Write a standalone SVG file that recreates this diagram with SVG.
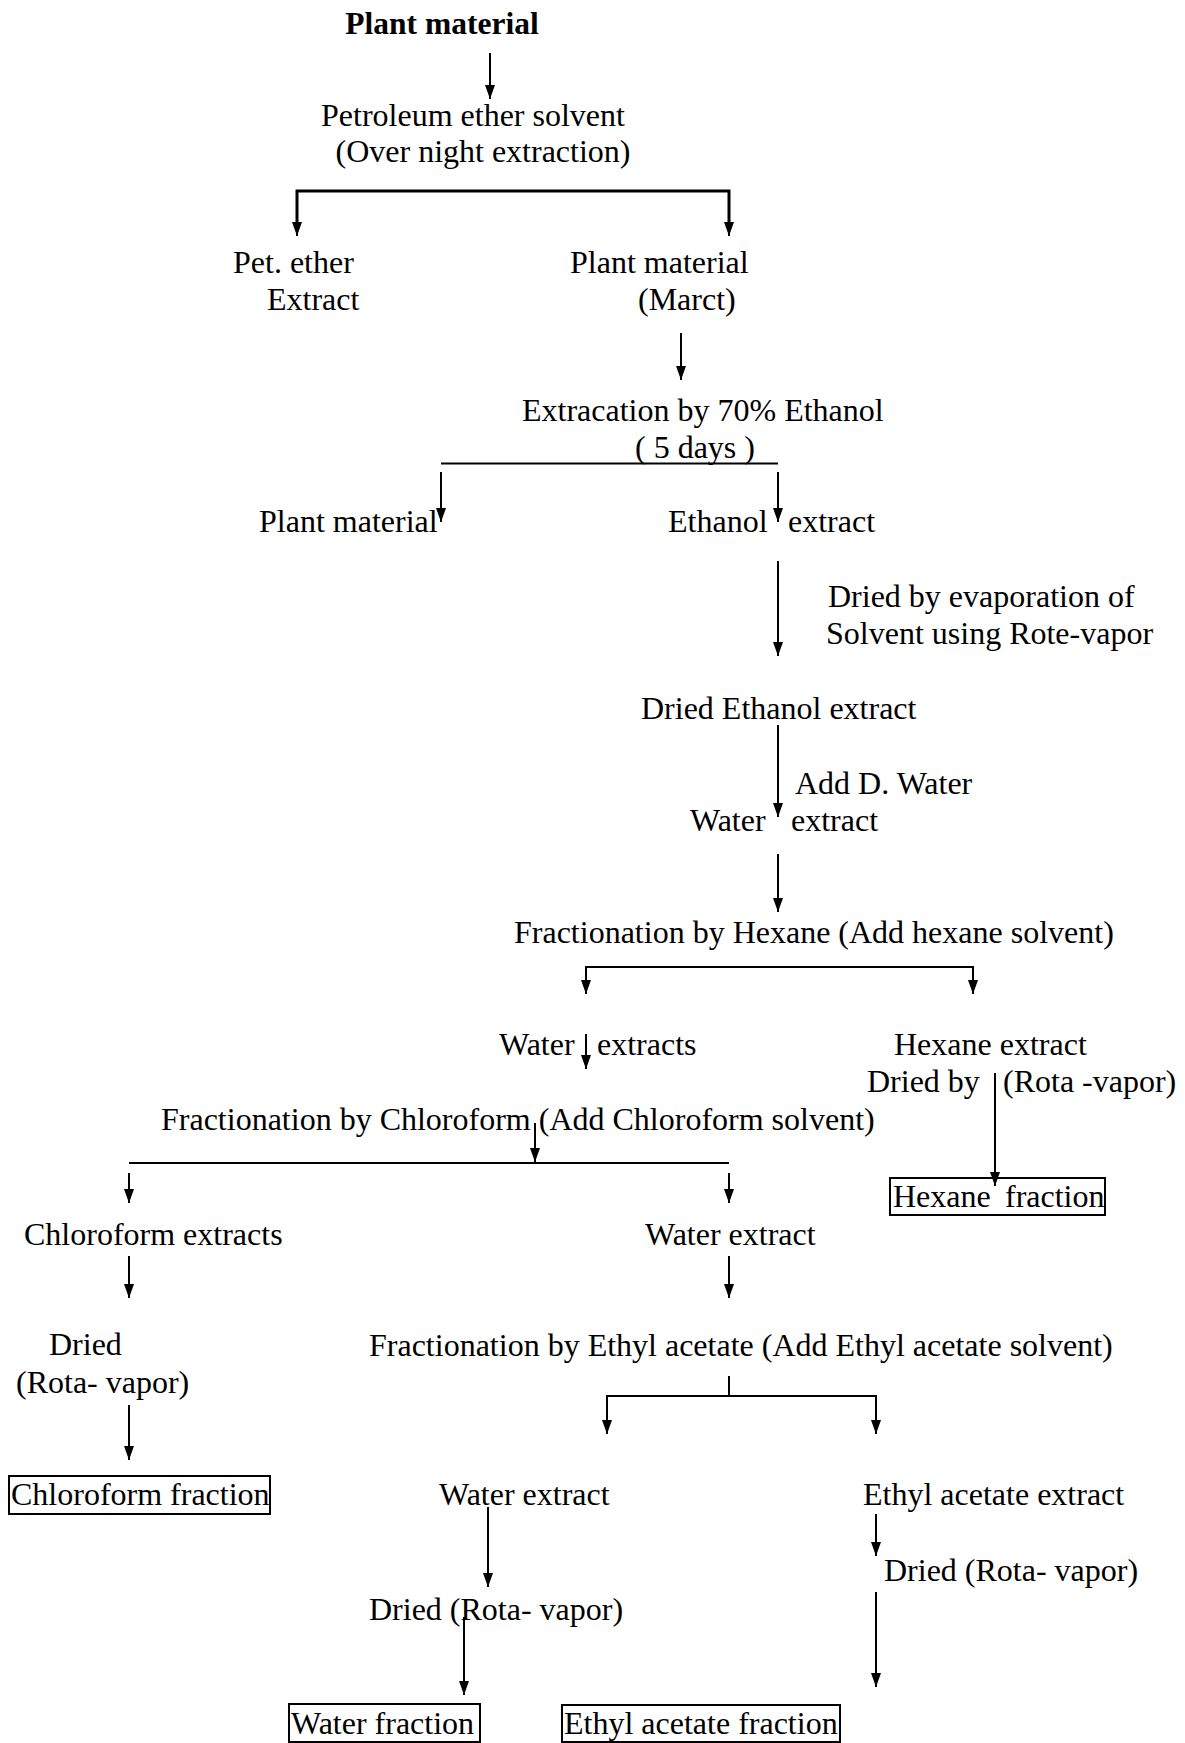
<svg xmlns="http://www.w3.org/2000/svg" width="1185" height="1743" viewBox="0 0 1185 1743">
<defs>
<marker id="ah" markerUnits="userSpaceOnUse" markerWidth="16" markerHeight="12" viewBox="0 0 16 12" refX="15" refY="6" orient="auto">
<path d="M1,1 L15,6 L1,11 Z" fill="#000"/>
</marker>
<style>
text{font-family:"Liberation Serif","Times New Roman",serif;font-size:32px;fill:#000}
.b{font-weight:bold;font-size:31.5px}
.c{text-anchor:middle}
.ln{stroke:#000;stroke-width:2;fill:none}
.th{stroke-width:3}
.ar{marker-end:url(#ah)}
.box{fill:none;stroke:#000;stroke-width:2}
</style>
</defs>
<rect width="1185" height="1743" fill="#fff"/>
<g id="connectors">
<line class="ln ar" x1="490" y1="53" x2="490" y2="99"/>
<path class="ln th" d="M297,226 V191 H729 V226"/>
<line class="ln ar" x1="297" y1="220" x2="297" y2="236"/>
<line class="ln ar" x1="729" y1="220" x2="729" y2="236"/>
<line class="ln ar" x1="681" y1="333" x2="681" y2="380"/>
<line class="ln" x1="441" y1="463.5" x2="778" y2="463.5" stroke-width="2.5"/>
<line class="ln ar" x1="441" y1="472" x2="441" y2="522"/>
<line class="ln ar" x1="778" y1="472" x2="778" y2="522"/>
<line class="ln ar" x1="778" y1="561" x2="778" y2="656"/>
<line class="ln ar" x1="778" y1="725" x2="778" y2="817"/>
<line class="ln ar" x1="778" y1="854" x2="778" y2="912"/>
<path class="ln" d="M586,985 V967 H973 V985"/>
<line class="ln ar" x1="586" y1="978" x2="586" y2="994"/>
<line class="ln ar" x1="973" y1="978" x2="973" y2="994"/>
<line class="ln ar" x1="586" y1="1034" x2="586" y2="1069"/>
<line class="ln ar" x1="995" y1="1073" x2="995" y2="1186"/>
<line class="ln ar" x1="535" y1="1123" x2="535" y2="1162"/>
<line class="ln" x1="129" y1="1163" x2="729" y2="1163"/>
<line class="ln ar" x1="129" y1="1173" x2="129" y2="1203"/>
<line class="ln ar" x1="729" y1="1173" x2="729" y2="1203"/>
<line class="ln ar" x1="129" y1="1256" x2="129" y2="1298"/>
<line class="ln ar" x1="729" y1="1256" x2="729" y2="1298"/>
<line class="ln ar" x1="129" y1="1405" x2="129" y2="1460"/>
<line class="ln" x1="729" y1="1376" x2="729" y2="1396"/>
<path class="ln" d="M607,1424 V1396 H876 V1424" stroke-width="2.5"/>
<line class="ln ar" x1="607" y1="1418" x2="607" y2="1434"/>
<line class="ln ar" x1="876" y1="1418" x2="876" y2="1434"/>
<line class="ln ar" x1="488" y1="1507" x2="488" y2="1587"/>
<line class="ln ar" x1="876" y1="1514" x2="876" y2="1556"/>
<line class="ln ar" x1="464" y1="1617" x2="464" y2="1695"/>
<line class="ln ar" x1="876" y1="1592" x2="876" y2="1687"/>
</g>
<g id="n-plant"><text class="b c" x="442" y="34">Plant material</text></g>
<g id="n-petsolvent"><text class="c" x="473" y="126">Petroleum ether solvent</text><text class="c" x="483" y="162">(Over night extraction)</text></g>
<g id="n-petextract"><text x="233" y="273">Pet. ether</text><text x="267" y="310">Extract</text></g>
<g id="n-marc"><text x="570" y="273">Plant material</text><text x="638" y="310">(Marct)</text></g>
<g id="n-ethanol70"><text x="522" y="421">Extracation by 70% Ethanol</text><text x="635" y="458">( 5 days )</text></g>
<g id="n-plant2"><text x="259" y="532">Plant material</text></g>
<g id="n-ethextract"><text x="668" y="532">Ethanol</text><text x="788" y="532">extract</text></g>
<g id="l-dried"><text x="828" y="607">Dried by evaporation of</text><text x="826" y="644">Solvent using Rote-vapor</text></g>
<g id="n-driedeth"><text x="641" y="719">Dried Ethanol extract</text></g>
<g id="l-water"><text x="795" y="794">Add D. Water</text></g>
<g id="n-waterext"><text x="690" y="831">Water</text><text x="791" y="831">extract</text></g>
<g id="n-hexfrac"><text x="514" y="943">Fractionation by Hexane (Add hexane solvent)</text></g>
<g id="n-waterexts"><text x="499" y="1055">Water</text><text x="597" y="1055">extracts</text></g>
<g id="n-hexext"><text x="894" y="1055">Hexane extract</text><text x="867" y="1092">Dried by</text><text x="1003" y="1092">(Rota -vapor)</text></g>
<g id="n-hexfraction"><rect class="box" x="890" y="1178" width="215" height="37"/><text x="893" y="1207">Hexane</text><text x="1005" y="1207">fraction</text></g>
<g id="n-chlorofrac"><text x="161" y="1130">Fractionation by Chloroform (Add Chloroform solvent)</text></g>
<g id="n-chloroext"><text x="24" y="1245">Chloroform extracts</text></g>
<g id="n-waterext2"><text x="645" y="1245">Water extract</text></g>
<g id="n-dried1"><text x="49" y="1355">Dried</text><text x="16" y="1393">(Rota- vapor)</text></g>
<g id="n-ethylfrac"><text x="369" y="1356">Fractionation by Ethyl acetate (Add Ethyl acetate solvent)</text></g>
<g id="n-chlorofraction"><rect class="box" x="9" y="1476" width="261" height="38"/><text x="11" y="1505">Chloroform fraction</text></g>
<g id="n-waterext3"><text x="439" y="1505">Water extract</text></g>
<g id="n-ethylext"><text x="863" y="1505">Ethyl acetate extract</text></g>
<g id="n-dried3"><text x="884" y="1581">Dried (Rota- vapor)</text></g>
<g id="n-dried2"><text x="369" y="1620">Dried (Rota- vapor)</text></g>
<g id="n-waterfraction"><rect class="box" x="289" y="1704" width="191" height="38"/><text x="291" y="1734">Water fraction</text></g>
<g id="n-ethylfraction"><rect class="box" x="562" y="1705" width="278" height="37"/><text x="564" y="1734">Ethyl acetate fraction</text></g>
</svg>
